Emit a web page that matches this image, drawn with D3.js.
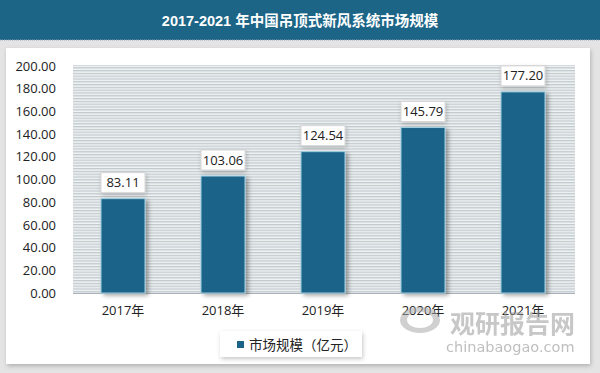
<!DOCTYPE html>
<html><head><meta charset="utf-8">
<script src="https://cdn.jsdelivr.net/npm/d3@7"></script>
<style>
html,body{margin:0;padding:0;background:#e6e6e6;}
svg{display:block;font-family:"Open Sans","Noto Sans CJK SC",sans-serif;}
</style></head>
<body>
<svg id="c" width="600" height="373"></svg>
<script>
const title = "2017-2021 年中国吊顶式新风系统市场规模";
const categories = ["2017年","2018年","2019年","2020年","2021年"];
const values = [83.11, 103.06, 124.54, 145.79, 177.20];
const yTicks = [0,20,40,60,80,100,120,140,160,180,200];
const seriesName = "市场规模（亿元）";

const svg = d3.select("#c");
const defs = svg.append("defs");
const f = defs.append("filter").attr("id","sh").attr("x","-20%").attr("y","-20%").attr("width","150%").attr("height","150%");
f.append("feDropShadow").attr("dx",3).attr("dy",2).attr("stdDeviation",2).attr("flood-color","#000").attr("flood-opacity",0.35);
const f2 = defs.append("filter").attr("id","sh2").attr("x","-10%").attr("y","-10%").attr("width","120%").attr("height","130%");
f2.append("feDropShadow").attr("dx",1).attr("dy",2).attr("stdDeviation",2).attr("flood-color","#000").attr("flood-opacity",0.22);
const pat = defs.append("pattern").attr("id","stripe").attr("patternUnits","userSpaceOnUse").attr("width",6).attr("height",2.8);
pat.append("rect").attr("width",6).attr("height",2.8).attr("fill","#f0f3f4");
pat.append("rect").attr("width",6).attr("height",1.3).attr("fill","#c2cace");

// background
svg.append("rect").attr("width",600).attr("height",373).attr("fill","#e4e4e4");
// panel
svg.append("rect").attr("x",6).attr("y",48).attr("width",584).attr("height",316).attr("fill","#fff").attr("filter","url(#sh2)");
// title bar
svg.append("rect").attr("x",0).attr("y",0).attr("width",600).attr("height",40).attr("fill","#1c6587");
svg.append("line").attr("x1",0).attr("x2",600).attr("y1",40).attr("y2",40).attr("stroke","#9ab").attr("stroke-dasharray","1,1");
svg.append("text").attr("x",300).attr("y",26).attr("text-anchor","middle").attr("fill","#fff")
  .attr("font-size",14.5).attr("font-weight","bold").attr("font-family","'Liberation Sans','Noto Sans CJK SC',sans-serif").text(title);

const x = d3.scaleBand().domain(categories).range([73,573]).paddingInner(0.56).paddingOuter(0.28);
const y = d3.scaleLinear().domain([0,200]).range([293,66]);

// plot area stripes
svg.append("rect").attr("x",73).attr("y",y(200)-1).attr("width",502).attr("height",y(0)-y(200)+1).attr("fill","url(#stripe)");
svg.append("line").attr("x1",73).attr("x2",575).attr("y1",y(0)+0.5).attr("y2",y(0)+0.5).attr("stroke","#a9b2b8");

// y axis
const ya = svg.append("g").attr("transform","translate(58,0)")
  .call(d3.axisLeft(y).tickValues(yTicks).tickFormat(d3.format(".2f")).tickSize(0).tickPadding(2));
ya.select(".domain").remove();
ya.selectAll("text").attr("font-size",13).attr("fill","#222").attr("font-family","'Open Sans',sans-serif");

// x axis
const xa = svg.append("g").attr("transform",`translate(0,${y(0)})`)
  .call(d3.axisBottom(x).tickSize(0).tickPadding(13));
xa.select(".domain").remove();
xa.selectAll("text").attr("font-size",13).attr("fill","#222").attr("font-family","'Open Sans','Noto Sans CJK SC',sans-serif");

// bars
svg.append("g").selectAll("rect").data(values).join("rect")
  .attr("x",(d,i)=>x(categories[i])).attr("y",d=>y(d))
  .attr("width",x.bandwidth()).attr("height",d=>y(0)-y(d))
  .attr("fill","#1b6489").attr("stroke","#9fcfe2").attr("stroke-width",1).attr("filter","url(#sh)");

// data labels
const lg = svg.append("g").selectAll("g").data(values).join("g")
  .attr("transform",(d,i)=>`translate(${x(categories[i])+x.bandwidth()/2},${y(d)-16})`);
lg.append("rect").attr("x",-22).attr("y",-10).attr("width",44).attr("height",20)
  .attr("fill","#fff").attr("stroke","#d6d6d6").attr("filter","url(#sh2)");
lg.append("text").attr("text-anchor","middle").attr("dy","0.35em").attr("font-size",13).attr("fill","#222")
  .text(d=>d3.format(".2f")(d));

// legend
const leg = svg.append("g");
leg.append("rect").attr("x",220).attr("y",331).attr("width",142).attr("height",26).attr("fill","#fff").attr("filter","url(#sh2)");
leg.append("rect").attr("x",237).attr("y",341).attr("width",7).attr("height",7).attr("fill","#1b6489");
leg.append("text").attr("x",249).attr("y",349.5).attr("font-size",13.5).attr("fill","#222")
  .attr("font-family","'Noto Sans CJK SC',sans-serif").text(seriesName);

// watermark
const wm = svg.append("g").attr("opacity",0.55).attr("fill","#999");
wm.append("path").attr("d","M 420 320 m -20 0 a 20 13 0 1 1 40 0 a 20 13 0 1 1 -40 0 z M 420 320 m -13 0 a 13 8 0 1 0 26 0 a 13 8 0 1 0 -26 0 z")
  .attr("fill-rule","evenodd").attr("fill","#aaa");
wm.append("text").attr("x",450).attr("y",333).attr("font-size",25).attr("font-weight","bold").attr("fill","#9a9a9a")
  .attr("font-family","'Noto Sans CJK SC',sans-serif").text("观研报告网");
wm.append("text").attr("x",446).attr("y",352).attr("font-size",14.5).attr("fill","#8a8a8a")
  .attr("font-family","'DejaVu Sans',sans-serif").text("chinabaogao.com");
</script>
</body></html>
